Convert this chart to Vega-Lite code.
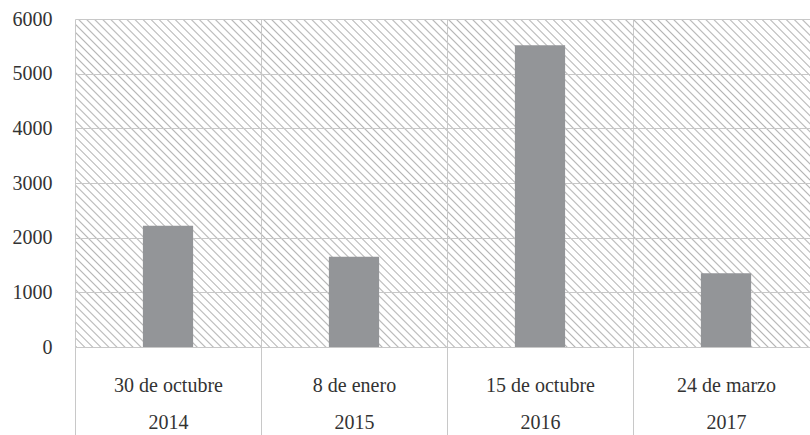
{
"$schema": "https://vega.github.io/schema/vega-lite/v6.json",
"width": 744,
"height": 328,
"padding": {"left": 12, "top": 9, "right": 0, "bottom": 0},
"background": "white",
"config": {"font": "Times New Roman, Liberation Serif, serif"},
"view": {"stroke": null, "fill": {"gradient": "linear", "x1": 0, "y1": 1, "x2": 1.2064, "y2": 0.4681, "stops": [
{"offset":0,"color":"#fff"},{"offset":0.0014,"color":"#b5b5b5"},{"offset":0.0028,"color":"#fff"},
{"offset":0.0075,"color":"#fff"},{"offset":0.0089,"color":"#b5b5b5"},{"offset":0.0103,"color":"#fff"},
{"offset":0.015,"color":"#fff"},{"offset":0.0164,"color":"#b5b5b5"},{"offset":0.0178,"color":"#fff"},
{"offset":0.0225,"color":"#fff"},{"offset":0.0239,"color":"#b5b5b5"},{"offset":0.0253,"color":"#fff"},
{"offset":0.03,"color":"#fff"},{"offset":0.0314,"color":"#b5b5b5"},{"offset":0.0328,"color":"#fff"},
{"offset":0.0375,"color":"#fff"},{"offset":0.0389,"color":"#b5b5b5"},{"offset":0.0403,"color":"#fff"},
{"offset":0.045,"color":"#fff"},{"offset":0.0464,"color":"#b5b5b5"},{"offset":0.0478,"color":"#fff"},
{"offset":0.0525,"color":"#fff"},{"offset":0.0539,"color":"#b5b5b5"},{"offset":0.0553,"color":"#fff"},
{"offset":0.06,"color":"#fff"},{"offset":0.0614,"color":"#b5b5b5"},{"offset":0.0628,"color":"#fff"},
{"offset":0.0675,"color":"#fff"},{"offset":0.0689,"color":"#b5b5b5"},{"offset":0.0703,"color":"#fff"},
{"offset":0.075,"color":"#fff"},{"offset":0.0764,"color":"#b5b5b5"},{"offset":0.0778,"color":"#fff"},
{"offset":0.0825,"color":"#fff"},{"offset":0.0839,"color":"#b5b5b5"},{"offset":0.0853,"color":"#fff"},
{"offset":0.09,"color":"#fff"},{"offset":0.0914,"color":"#b5b5b5"},{"offset":0.0928,"color":"#fff"},
{"offset":0.0975,"color":"#fff"},{"offset":0.0989,"color":"#b5b5b5"},{"offset":0.1003,"color":"#fff"},
{"offset":0.105,"color":"#fff"},{"offset":0.1064,"color":"#b5b5b5"},{"offset":0.1078,"color":"#fff"},
{"offset":0.1125,"color":"#fff"},{"offset":0.1139,"color":"#b5b5b5"},{"offset":0.1153,"color":"#fff"},
{"offset":0.12,"color":"#fff"},{"offset":0.1214,"color":"#b5b5b5"},{"offset":0.1228,"color":"#fff"},
{"offset":0.1275,"color":"#fff"},{"offset":0.1289,"color":"#b5b5b5"},{"offset":0.1303,"color":"#fff"},
{"offset":0.135,"color":"#fff"},{"offset":0.1364,"color":"#b5b5b5"},{"offset":0.1378,"color":"#fff"},
{"offset":0.1425,"color":"#fff"},{"offset":0.1439,"color":"#b5b5b5"},{"offset":0.1453,"color":"#fff"},
{"offset":0.15,"color":"#fff"},{"offset":0.1514,"color":"#b5b5b5"},{"offset":0.1528,"color":"#fff"},
{"offset":0.1575,"color":"#fff"},{"offset":0.1589,"color":"#b5b5b5"},{"offset":0.1603,"color":"#fff"},
{"offset":0.165,"color":"#fff"},{"offset":0.1664,"color":"#b5b5b5"},{"offset":0.1678,"color":"#fff"},
{"offset":0.1725,"color":"#fff"},{"offset":0.1739,"color":"#b5b5b5"},{"offset":0.1753,"color":"#fff"},
{"offset":0.18,"color":"#fff"},{"offset":0.1814,"color":"#b5b5b5"},{"offset":0.1828,"color":"#fff"},
{"offset":0.1875,"color":"#fff"},{"offset":0.1889,"color":"#b5b5b5"},{"offset":0.1903,"color":"#fff"},
{"offset":0.195,"color":"#fff"},{"offset":0.1964,"color":"#b5b5b5"},{"offset":0.1978,"color":"#fff"},
{"offset":0.2025,"color":"#fff"},{"offset":0.2039,"color":"#b5b5b5"},{"offset":0.2053,"color":"#fff"},
{"offset":0.21,"color":"#fff"},{"offset":0.2114,"color":"#b5b5b5"},{"offset":0.2128,"color":"#fff"},
{"offset":0.2175,"color":"#fff"},{"offset":0.2189,"color":"#b5b5b5"},{"offset":0.2203,"color":"#fff"},
{"offset":0.225,"color":"#fff"},{"offset":0.2264,"color":"#b5b5b5"},{"offset":0.2278,"color":"#fff"},
{"offset":0.2325,"color":"#fff"},{"offset":0.2339,"color":"#b5b5b5"},{"offset":0.2353,"color":"#fff"},
{"offset":0.24,"color":"#fff"},{"offset":0.2414,"color":"#b5b5b5"},{"offset":0.2428,"color":"#fff"},
{"offset":0.2475,"color":"#fff"},{"offset":0.2489,"color":"#b5b5b5"},{"offset":0.2503,"color":"#fff"},
{"offset":0.255,"color":"#fff"},{"offset":0.2564,"color":"#b5b5b5"},{"offset":0.2578,"color":"#fff"},
{"offset":0.2625,"color":"#fff"},{"offset":0.2639,"color":"#b5b5b5"},{"offset":0.2653,"color":"#fff"},
{"offset":0.27,"color":"#fff"},{"offset":0.2714,"color":"#b5b5b5"},{"offset":0.2728,"color":"#fff"},
{"offset":0.2775,"color":"#fff"},{"offset":0.2789,"color":"#b5b5b5"},{"offset":0.2803,"color":"#fff"},
{"offset":0.285,"color":"#fff"},{"offset":0.2864,"color":"#b5b5b5"},{"offset":0.2878,"color":"#fff"},
{"offset":0.2925,"color":"#fff"},{"offset":0.2939,"color":"#b5b5b5"},{"offset":0.2953,"color":"#fff"},
{"offset":0.3,"color":"#fff"},{"offset":0.3014,"color":"#b5b5b5"},{"offset":0.3028,"color":"#fff"},
{"offset":0.3075,"color":"#fff"},{"offset":0.3089,"color":"#b5b5b5"},{"offset":0.3103,"color":"#fff"},
{"offset":0.315,"color":"#fff"},{"offset":0.3164,"color":"#b5b5b5"},{"offset":0.3178,"color":"#fff"},
{"offset":0.3225,"color":"#fff"},{"offset":0.3239,"color":"#b5b5b5"},{"offset":0.3253,"color":"#fff"},
{"offset":0.33,"color":"#fff"},{"offset":0.3314,"color":"#b5b5b5"},{"offset":0.3328,"color":"#fff"},
{"offset":0.3375,"color":"#fff"},{"offset":0.3389,"color":"#b5b5b5"},{"offset":0.3403,"color":"#fff"},
{"offset":0.345,"color":"#fff"},{"offset":0.3464,"color":"#b5b5b5"},{"offset":0.3478,"color":"#fff"},
{"offset":0.3525,"color":"#fff"},{"offset":0.3539,"color":"#b5b5b5"},{"offset":0.3553,"color":"#fff"},
{"offset":0.36,"color":"#fff"},{"offset":0.3614,"color":"#b5b5b5"},{"offset":0.3628,"color":"#fff"},
{"offset":0.3675,"color":"#fff"},{"offset":0.3689,"color":"#b5b5b5"},{"offset":0.3703,"color":"#fff"},
{"offset":0.375,"color":"#fff"},{"offset":0.3764,"color":"#b5b5b5"},{"offset":0.3778,"color":"#fff"},
{"offset":0.3825,"color":"#fff"},{"offset":0.3839,"color":"#b5b5b5"},{"offset":0.3853,"color":"#fff"},
{"offset":0.39,"color":"#fff"},{"offset":0.3914,"color":"#b5b5b5"},{"offset":0.3928,"color":"#fff"},
{"offset":0.3975,"color":"#fff"},{"offset":0.3989,"color":"#b5b5b5"},{"offset":0.4003,"color":"#fff"},
{"offset":0.405,"color":"#fff"},{"offset":0.4064,"color":"#b5b5b5"},{"offset":0.4078,"color":"#fff"},
{"offset":0.4125,"color":"#fff"},{"offset":0.4139,"color":"#b5b5b5"},{"offset":0.4153,"color":"#fff"},
{"offset":0.42,"color":"#fff"},{"offset":0.4214,"color":"#b5b5b5"},{"offset":0.4228,"color":"#fff"},
{"offset":0.4275,"color":"#fff"},{"offset":0.4289,"color":"#b5b5b5"},{"offset":0.4303,"color":"#fff"},
{"offset":0.435,"color":"#fff"},{"offset":0.4364,"color":"#b5b5b5"},{"offset":0.4378,"color":"#fff"},
{"offset":0.4425,"color":"#fff"},{"offset":0.4439,"color":"#b5b5b5"},{"offset":0.4453,"color":"#fff"},
{"offset":0.45,"color":"#fff"},{"offset":0.4514,"color":"#b5b5b5"},{"offset":0.4528,"color":"#fff"},
{"offset":0.4575,"color":"#fff"},{"offset":0.4589,"color":"#b5b5b5"},{"offset":0.4603,"color":"#fff"},
{"offset":0.465,"color":"#fff"},{"offset":0.4664,"color":"#b5b5b5"},{"offset":0.4678,"color":"#fff"},
{"offset":0.4725,"color":"#fff"},{"offset":0.4739,"color":"#b5b5b5"},{"offset":0.4753,"color":"#fff"},
{"offset":0.48,"color":"#fff"},{"offset":0.4814,"color":"#b5b5b5"},{"offset":0.4828,"color":"#fff"},
{"offset":0.4875,"color":"#fff"},{"offset":0.4889,"color":"#b5b5b5"},{"offset":0.4903,"color":"#fff"},
{"offset":0.495,"color":"#fff"},{"offset":0.4964,"color":"#b5b5b5"},{"offset":0.4978,"color":"#fff"},
{"offset":0.5025,"color":"#fff"},{"offset":0.5039,"color":"#b5b5b5"},{"offset":0.5053,"color":"#fff"},
{"offset":0.51,"color":"#fff"},{"offset":0.5114,"color":"#b5b5b5"},{"offset":0.5128,"color":"#fff"},
{"offset":0.5175,"color":"#fff"},{"offset":0.5189,"color":"#b5b5b5"},{"offset":0.5203,"color":"#fff"},
{"offset":0.525,"color":"#fff"},{"offset":0.5264,"color":"#b5b5b5"},{"offset":0.5278,"color":"#fff"},
{"offset":0.5325,"color":"#fff"},{"offset":0.5339,"color":"#b5b5b5"},{"offset":0.5353,"color":"#fff"},
{"offset":0.54,"color":"#fff"},{"offset":0.5414,"color":"#b5b5b5"},{"offset":0.5428,"color":"#fff"},
{"offset":0.5475,"color":"#fff"},{"offset":0.5489,"color":"#b5b5b5"},{"offset":0.5503,"color":"#fff"},
{"offset":0.555,"color":"#fff"},{"offset":0.5564,"color":"#b5b5b5"},{"offset":0.5578,"color":"#fff"},
{"offset":0.5625,"color":"#fff"},{"offset":0.5639,"color":"#b5b5b5"},{"offset":0.5653,"color":"#fff"},
{"offset":0.57,"color":"#fff"},{"offset":0.5714,"color":"#b5b5b5"},{"offset":0.5728,"color":"#fff"},
{"offset":0.5775,"color":"#fff"},{"offset":0.5789,"color":"#b5b5b5"},{"offset":0.5803,"color":"#fff"},
{"offset":0.585,"color":"#fff"},{"offset":0.5864,"color":"#b5b5b5"},{"offset":0.5878,"color":"#fff"},
{"offset":0.5925,"color":"#fff"},{"offset":0.5939,"color":"#b5b5b5"},{"offset":0.5953,"color":"#fff"},
{"offset":0.6,"color":"#fff"},{"offset":0.6014,"color":"#b5b5b5"},{"offset":0.6028,"color":"#fff"},
{"offset":0.6075,"color":"#fff"},{"offset":0.6089,"color":"#b5b5b5"},{"offset":0.6103,"color":"#fff"},
{"offset":0.615,"color":"#fff"},{"offset":0.6164,"color":"#b5b5b5"},{"offset":0.6178,"color":"#fff"},
{"offset":0.6225,"color":"#fff"},{"offset":0.6239,"color":"#b5b5b5"},{"offset":0.6253,"color":"#fff"},
{"offset":0.63,"color":"#fff"},{"offset":0.6314,"color":"#b5b5b5"},{"offset":0.6328,"color":"#fff"},
{"offset":0.6375,"color":"#fff"},{"offset":0.6389,"color":"#b5b5b5"},{"offset":0.6403,"color":"#fff"},
{"offset":0.645,"color":"#fff"},{"offset":0.6464,"color":"#b5b5b5"},{"offset":0.6478,"color":"#fff"},
{"offset":0.6525,"color":"#fff"},{"offset":0.6539,"color":"#b5b5b5"},{"offset":0.6553,"color":"#fff"},
{"offset":0.66,"color":"#fff"},{"offset":0.6614,"color":"#b5b5b5"},{"offset":0.6628,"color":"#fff"},
{"offset":0.6675,"color":"#fff"},{"offset":0.6689,"color":"#b5b5b5"},{"offset":0.6703,"color":"#fff"},
{"offset":0.675,"color":"#fff"},{"offset":0.6764,"color":"#b5b5b5"},{"offset":0.6778,"color":"#fff"},
{"offset":0.6825,"color":"#fff"},{"offset":0.6839,"color":"#b5b5b5"},{"offset":0.6853,"color":"#fff"},
{"offset":0.69,"color":"#fff"},{"offset":0.6914,"color":"#b5b5b5"},{"offset":0.6928,"color":"#fff"},
{"offset":0.6975,"color":"#fff"},{"offset":0.6989,"color":"#b5b5b5"},{"offset":0.7003,"color":"#fff"},
{"offset":0.705,"color":"#fff"},{"offset":0.7064,"color":"#b5b5b5"},{"offset":0.7078,"color":"#fff"},
{"offset":0.7125,"color":"#fff"},{"offset":0.7139,"color":"#b5b5b5"},{"offset":0.7153,"color":"#fff"},
{"offset":0.72,"color":"#fff"},{"offset":0.7214,"color":"#b5b5b5"},{"offset":0.7228,"color":"#fff"},
{"offset":0.7275,"color":"#fff"},{"offset":0.7289,"color":"#b5b5b5"},{"offset":0.7303,"color":"#fff"},
{"offset":0.735,"color":"#fff"},{"offset":0.7364,"color":"#b5b5b5"},{"offset":0.7378,"color":"#fff"},
{"offset":0.7425,"color":"#fff"},{"offset":0.7439,"color":"#b5b5b5"},{"offset":0.7453,"color":"#fff"},
{"offset":0.75,"color":"#fff"},{"offset":0.7514,"color":"#b5b5b5"},{"offset":0.7528,"color":"#fff"},
{"offset":0.7575,"color":"#fff"},{"offset":0.7589,"color":"#b5b5b5"},{"offset":0.7603,"color":"#fff"},
{"offset":0.765,"color":"#fff"},{"offset":0.7664,"color":"#b5b5b5"},{"offset":0.7678,"color":"#fff"},
{"offset":0.7725,"color":"#fff"},{"offset":0.7739,"color":"#b5b5b5"},{"offset":0.7753,"color":"#fff"},
{"offset":0.78,"color":"#fff"},{"offset":0.7814,"color":"#b5b5b5"},{"offset":0.7828,"color":"#fff"},
{"offset":0.7875,"color":"#fff"},{"offset":0.7889,"color":"#b5b5b5"},{"offset":0.7903,"color":"#fff"},
{"offset":0.795,"color":"#fff"},{"offset":0.7964,"color":"#b5b5b5"},{"offset":0.7978,"color":"#fff"},
{"offset":0.8025,"color":"#fff"},{"offset":0.8039,"color":"#b5b5b5"},{"offset":0.8053,"color":"#fff"},
{"offset":0.81,"color":"#fff"},{"offset":0.8114,"color":"#b5b5b5"},{"offset":0.8128,"color":"#fff"},
{"offset":0.8175,"color":"#fff"},{"offset":0.8189,"color":"#b5b5b5"},{"offset":0.8203,"color":"#fff"},
{"offset":0.825,"color":"#fff"},{"offset":0.8264,"color":"#b5b5b5"},{"offset":0.8278,"color":"#fff"},
{"offset":0.8325,"color":"#fff"},{"offset":0.8339,"color":"#b5b5b5"},{"offset":0.8353,"color":"#fff"},
{"offset":0.84,"color":"#fff"},{"offset":0.8414,"color":"#b5b5b5"},{"offset":0.8428,"color":"#fff"},
{"offset":0.8475,"color":"#fff"},{"offset":0.8489,"color":"#b5b5b5"},{"offset":0.8503,"color":"#fff"},
{"offset":0.855,"color":"#fff"},{"offset":0.8564,"color":"#b5b5b5"},{"offset":0.8578,"color":"#fff"},
{"offset":0.8625,"color":"#fff"},{"offset":0.8639,"color":"#b5b5b5"},{"offset":0.8653,"color":"#fff"},
{"offset":0.87,"color":"#fff"},{"offset":0.8714,"color":"#b5b5b5"},{"offset":0.8728,"color":"#fff"},
{"offset":0.8775,"color":"#fff"},{"offset":0.8789,"color":"#b5b5b5"},{"offset":0.8803,"color":"#fff"},
{"offset":0.885,"color":"#fff"},{"offset":0.8864,"color":"#b5b5b5"},{"offset":0.8878,"color":"#fff"},
{"offset":0.8925,"color":"#fff"},{"offset":0.8939,"color":"#b5b5b5"},{"offset":0.8953,"color":"#fff"},
{"offset":0.9,"color":"#fff"},{"offset":0.9014,"color":"#b5b5b5"},{"offset":0.9028,"color":"#fff"},
{"offset":0.9075,"color":"#fff"},{"offset":0.9089,"color":"#b5b5b5"},{"offset":0.9103,"color":"#fff"},
{"offset":0.915,"color":"#fff"},{"offset":0.9164,"color":"#b5b5b5"},{"offset":0.9178,"color":"#fff"},
{"offset":0.9225,"color":"#fff"},{"offset":0.9239,"color":"#b5b5b5"},{"offset":0.9253,"color":"#fff"},
{"offset":0.93,"color":"#fff"},{"offset":0.9314,"color":"#b5b5b5"},{"offset":0.9328,"color":"#fff"},
{"offset":0.9375,"color":"#fff"},{"offset":0.9389,"color":"#b5b5b5"},{"offset":0.9403,"color":"#fff"},
{"offset":0.945,"color":"#fff"},{"offset":0.9464,"color":"#b5b5b5"},{"offset":0.9478,"color":"#fff"},
{"offset":0.9525,"color":"#fff"},{"offset":0.9539,"color":"#b5b5b5"},{"offset":0.9553,"color":"#fff"},
{"offset":0.96,"color":"#fff"},{"offset":0.9614,"color":"#b5b5b5"},{"offset":0.9628,"color":"#fff"},
{"offset":0.9675,"color":"#fff"},{"offset":0.9689,"color":"#b5b5b5"},{"offset":0.9703,"color":"#fff"},
{"offset":0.975,"color":"#fff"},{"offset":0.9764,"color":"#b5b5b5"},{"offset":0.9778,"color":"#fff"},
{"offset":0.9825,"color":"#fff"},{"offset":0.9839,"color":"#b5b5b5"},{"offset":0.9853,"color":"#fff"},
{"offset":0.99,"color":"#fff"},{"offset":0.9914,"color":"#b5b5b5"},{"offset":0.9928,"color":"#fff"},
{"offset":1,"color":"#fff"}
]}},
"data": {"values": [
{"fecha": "30 de octubre|2014", "valor": 2220},
{"fecha": "8 de enero|2015", "valor": 1650},
{"fecha": "15 de octubre|2016", "valor": 5520},
{"fecha": "24 de marzo|2017", "valor": 1350}
]},
"mark": {"type": "bar", "color": "#939598", "width": {"band": 0.27}},
"encoding": {
"x": {"field": "fecha", "type": "nominal", "sort": null,
"scale": {"paddingInner": 0, "paddingOuter": 0},
"axis": {"title": null, "labelExpr": "split(datum.label, '|')", "labelAngle": 0,
"labelFont": "Times New Roman, Liberation Serif, serif", "labelFontSize": 20, "labelColor": "#333333",
"labelLineHeight": 37, "labelPadding": -60, "labelBaseline": "top",
"tickBand": "extent", "grid": true, "gridColor": "#c8c8c8", "gridWidth": 1,
"ticks": true, "tickSize": 88, "tickColor": "#c8c8c8", "tickWidth": 1,
"domain": true, "domainColor": "#c8c8c8", "domainWidth": 1}},
"y": {"field": "valor", "type": "quantitative",
"scale": {"domain": [0, 6000], "nice": false},
"axis": {"title": null, "values": [0, 1000, 2000, 3000, 4000, 5000, 6000], "format": "d",
"domain": false, "ticks": false, "grid": true, "gridColor": "#c8c8c8", "gridWidth": 1,
"labelFont": "Times New Roman, Liberation Serif, serif", "labelFontSize": 20, "labelColor": "#333333", "labelPadding": 23}}
}
}
